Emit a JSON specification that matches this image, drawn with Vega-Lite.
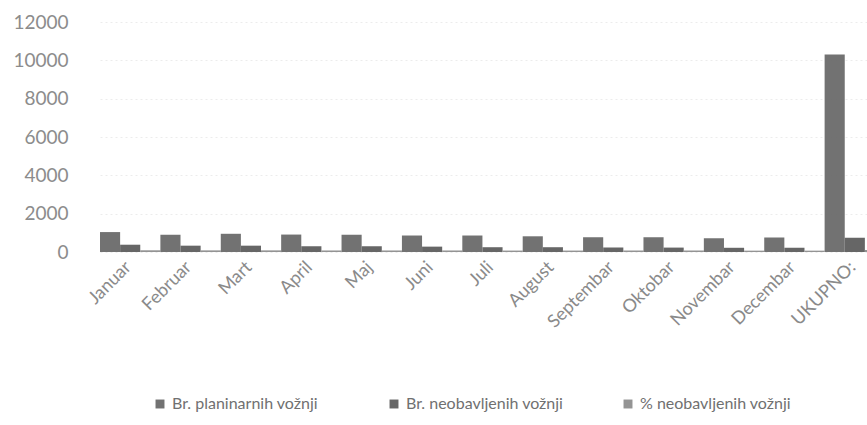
{
  "$schema": "https://vega.github.io/schema/vega-lite/v6.json",
  "width": 767,
  "height": 230,
  "autosize": "none",
  "padding": {"left": 100, "top": 22, "right": 0, "bottom": 173},
  "background": "white",
  "config": {
    "font": "Lato",
    "view": {"stroke": null}
  },
  "data": {
    "values": [
      {"mjesec": "Januar", "serija": "Br. planinarnih vožnji", "v": 1040},
      {"mjesec": "Januar", "serija": "Br. neobavljenih vožnji", "v": 380},
      {"mjesec": "Januar", "serija": "% neobavljenih vožnji", "v": 90},
      {"mjesec": "Februar", "serija": "Br. planinarnih vožnji", "v": 900},
      {"mjesec": "Februar", "serija": "Br. neobavljenih vožnji", "v": 330},
      {"mjesec": "Februar", "serija": "% neobavljenih vožnji", "v": 85},
      {"mjesec": "Mart", "serija": "Br. planinarnih vožnji", "v": 950},
      {"mjesec": "Mart", "serija": "Br. neobavljenih vožnji", "v": 330},
      {"mjesec": "Mart", "serija": "% neobavljenih vožnji", "v": 85},
      {"mjesec": "April", "serija": "Br. planinarnih vožnji", "v": 910},
      {"mjesec": "April", "serija": "Br. neobavljenih vožnji", "v": 300},
      {"mjesec": "April", "serija": "% neobavljenih vožnji", "v": 80},
      {"mjesec": "Maj", "serija": "Br. planinarnih vožnji", "v": 900},
      {"mjesec": "Maj", "serija": "Br. neobavljenih vožnji", "v": 300},
      {"mjesec": "Maj", "serija": "% neobavljenih vožnji", "v": 80},
      {"mjesec": "Juni", "serija": "Br. planinarnih vožnji", "v": 860},
      {"mjesec": "Juni", "serija": "Br. neobavljenih vožnji", "v": 280},
      {"mjesec": "Juni", "serija": "% neobavljenih vožnji", "v": 80},
      {"mjesec": "Juli", "serija": "Br. planinarnih vožnji", "v": 860},
      {"mjesec": "Juli", "serija": "Br. neobavljenih vožnji", "v": 250},
      {"mjesec": "Juli", "serija": "% neobavljenih vožnji", "v": 75},
      {"mjesec": "August", "serija": "Br. planinarnih vožnji", "v": 820},
      {"mjesec": "August", "serija": "Br. neobavljenih vožnji", "v": 250},
      {"mjesec": "August", "serija": "% neobavljenih vožnji", "v": 75},
      {"mjesec": "Septembar", "serija": "Br. planinarnih vožnji", "v": 770},
      {"mjesec": "Septembar", "serija": "Br. neobavljenih vožnji", "v": 230},
      {"mjesec": "Septembar", "serija": "% neobavljenih vožnji", "v": 75},
      {"mjesec": "Oktobar", "serija": "Br. planinarnih vožnji", "v": 770},
      {"mjesec": "Oktobar", "serija": "Br. neobavljenih vožnji", "v": 230},
      {"mjesec": "Oktobar", "serija": "% neobavljenih vožnji", "v": 75},
      {"mjesec": "Novembar", "serija": "Br. planinarnih vožnji", "v": 720},
      {"mjesec": "Novembar", "serija": "Br. neobavljenih vožnji", "v": 220},
      {"mjesec": "Novembar", "serija": "% neobavljenih vožnji", "v": 70},
      {"mjesec": "Decembar", "serija": "Br. planinarnih vožnji", "v": 755},
      {"mjesec": "Decembar", "serija": "Br. neobavljenih vožnji", "v": 220},
      {"mjesec": "Decembar", "serija": "% neobavljenih vožnji", "v": 70},
      {"mjesec": "UKUPNO:", "serija": "Br. planinarnih vožnji", "v": 10300},
      {"mjesec": "UKUPNO:", "serija": "Br. neobavljenih vožnji", "v": 750},
      {"mjesec": "UKUPNO:", "serija": "% neobavljenih vožnji", "v": 100}
    ]
  },
  "mark": {"type": "bar", "opacity": 0.95},
  "encoding": {
    "x": {
      "field": "mjesec",
      "type": "nominal",
      "sort": null,
      "scale": {"range": [0, 785], "paddingInner": 0, "paddingOuter": 0},
      "axis": {
        "title": null,
        "labelAngle": -45,
        "labelFontSize": 18,
        "labelColor": "#8a8a8a",
        "labelOffset": -8,
        "labelPadding": 6,
        "domain": false,
        "ticks": false,
        "grid": false
      }
    },
    "xOffset": {"field": "serija", "type": "nominal", "sort": ["Br. planinarnih vožnji", "Br. neobavljenih vožnji", "% neobavljenih vožnji"], "scale": {"paddingInner": 0}},
    "y": {
      "field": "v",
      "type": "quantitative",
      "scale": {"domain": [0, 12000]},
      "axis": {
        "title": null,
        "values": [0, 2000, 4000, 6000, 8000, 10000, 12000],
        "format": "d",
        "labelFontSize": 19,
        "labelColor": "#8c8c8c",
        "labelPadding": 32,
        "domain": false,
        "ticks": false,
        "gridColor": "#ececec",
        "gridDash": [2, 3],
        "gridWidth": 1
      }
    },
    "color": {
      "field": "serija",
      "type": "nominal",
      "sort": ["Br. planinarnih vožnji", "Br. neobavljenih vožnji", "% neobavljenih vožnji"],
      "scale": {"range": ["#6a6a6a", "#5e5e5e", "#8e8e8e"]},
      "legend": {
        "title": null,
        "orient": "none",
        "legendX": 52,
        "legendY": 374,
        "direction": "horizontal",
        "columns": 3,
        "gridAlign": "all",
        "columnPadding": 56,
        "symbolType": "square",
        "symbolSize": 80,
        "labelFontSize": 16,
        "labelColor": "#707070",
        "labelLimit": 300
      }
    }
  }
}
